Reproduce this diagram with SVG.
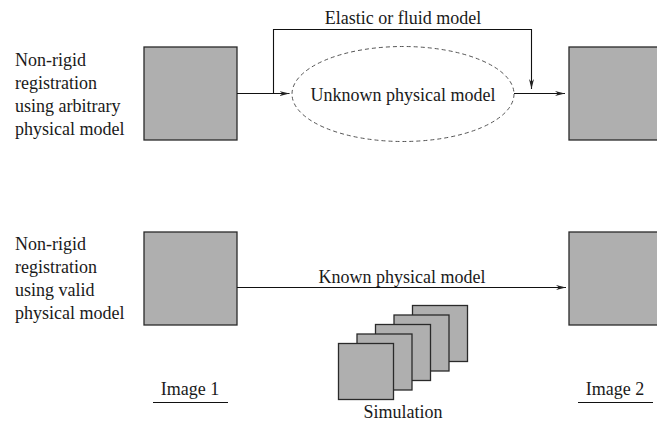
<svg xmlns="http://www.w3.org/2000/svg" width="657" height="423" viewBox="0 0 657 423">
  <style>
    text { font-family: "Liberation Serif", "Times New Roman", serif; font-size: 18px; fill: #1a1a1a; }
    .mid { text-anchor: middle; }
    .img { fill: #afafaf; stroke: #2a2a2a; stroke-width: 1.3; }
    .line { fill: none; stroke: #111; stroke-width: 1.1; }
    .ell { fill: none; stroke: #555; stroke-width: 1; stroke-dasharray: 4 3; }
  </style>
  <defs>
    <marker id="arrow" viewBox="0 0 10 6" refX="10" refY="3" markerWidth="10" markerHeight="6" markerUnits="userSpaceOnUse" orient="auto">
      <path d="M0,0.5 L10,3 L0,5.5 L3,3 Z" fill="#222"/>
    </marker>
  </defs>
  <rect width="657" height="423" fill="#fff"/>

  <!-- Row 1: arbitrary physical model -->
  <g id="label-arbitrary">
    <text x="15" y="66">Non-rigid</text>
    <text x="15" y="89">registration</text>
    <text x="15" y="112">using arbitrary</text>
    <text x="15" y="135">physical model</text>
  </g>
  <g id="image1-top"><rect class="img" x="144" y="47" width="93" height="93"/></g>
  <g id="unknown-model">
    <ellipse class="ell" cx="403" cy="94" rx="111" ry="47.5"/>
    <text class="mid" x="403" y="101">Unknown physical model</text>
  </g>
  <g id="image2-top"><rect class="img" x="569" y="47" width="95" height="93"/></g>
  <g id="elastic-label"><text class="mid" x="403" y="24">Elastic or fluid model</text></g>

  <!-- Row 2: valid physical model -->
  <g id="label-valid">
    <text x="15" y="250">Non-rigid</text>
    <text x="15" y="273">registration</text>
    <text x="15" y="296">using valid</text>
    <text x="15" y="319">physical model</text>
  </g>
  <g id="image1-bottom"><rect class="img" x="144" y="232" width="93" height="93"/></g>
  <g id="image2-bottom"><rect class="img" x="569" y="232" width="95" height="93"/></g>
  <g id="known-label"><text class="mid" x="402" y="283">Known physical model</text></g>

  <g id="simulation">
    <rect class="img" x="412.5" y="305.5" width="55" height="56"/>
    <rect class="img" x="394" y="315" width="55" height="56"/>
    <rect class="img" x="375.5" y="324.5" width="55" height="56"/>
    <rect class="img" x="357" y="334" width="55" height="56"/>
    <rect class="img" x="338.5" y="343.5" width="55" height="56"/>
    <text class="mid" x="403" y="418">Simulation</text>
  </g>

  <g id="caption-image1">
    <text class="mid" x="190" y="395">Image 1</text>
    <line class="line" x1="153" y1="402.5" x2="228" y2="402.5"/>
  </g>
  <g id="caption-image2">
    <text class="mid" x="615" y="395">Image 2</text>
    <line class="line" x1="578" y1="402.5" x2="653" y2="402.5"/>
  </g>

  <!-- Connectors -->
  <g id="connectors">
    <line class="line" x1="237" y1="93.5" x2="289.5" y2="93.5" marker-end="url(#arrow)"/>
    <path class="line" d="M273.5,93.5 V29.5 H531.5 V89" marker-end="url(#arrow)"/>
    <line class="line" x1="514" y1="93.5" x2="565" y2="93.5" marker-end="url(#arrow)"/>
    <line class="line" x1="237" y1="287.5" x2="566" y2="287.5" marker-end="url(#arrow)"/>
  </g>
</svg>
